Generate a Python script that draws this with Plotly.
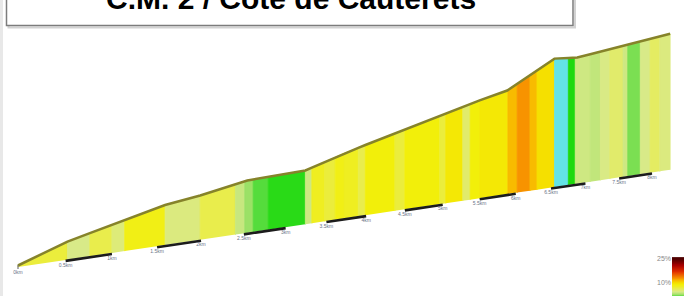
import numpy as np
import plotly.graph_objects as go

# ---------------- data ----------------
title_text = "C.M. 2 / Cote de Cauterets"

# altitude profile (km from start, metres)
profile_km = [0, 0.52, 1.57, 1.99, 2.54, 3.24, 3.72, 5.50, 5.88, 6.30, 6.54, 6.88, 7.77, 8.28]
profile_alt = [470, 512, 570, 583, 606, 612, 645, 747, 766, 815, 844, 840, 866, 882]

# colour-coded slope strips: boundaries (km) and gradient (%) of each strip
strip_km = [0, 0.52, 0.76, 1.00, 1.14, 1.59, 1.99, 2.40, 2.51, 2.61, 2.79, 3.24, 3.32, 3.48,
            3.61, 3.72, 3.90, 3.99, 4.37, 4.50, 4.96, 5.04, 5.27, 5.37, 5.50, 5.89, 6.02,
            6.20, 6.30, 6.55, 6.75, 6.85, 7.07, 7.22, 7.36, 7.56, 7.63, 7.82, 7.97,
            8.12, 8.28]
strip_grade = [7, 4.5, 6.5, 5, 8.5, 4.8, 6.5, 4.0, 2.8, 1.5, 0.3, 4.2, 8, 7,
               8.5, 8, 6.5, 9, 7, 9, 7, 9.5, 5.5, 9, 9.5, 11.5, 13,
               11.5, 10, -1, 0, 4.2, 3.8, 4.6, 5.5, 4.2, 2.2, 4.5, 5.8,
               4.8]

# kilometre markers (black bars from each half-km to the next km)
bar_start_km = [0.5, 1.5, 2.5, 3.5, 4.5, 5.5, 6.5, 7.5]
bar_end_km = [1, 2, 3, 4, 5, 6, 7, 8]
start_label_km = [0]

# slope legend
legend_ticks = [10, 25]
legend_labels = ["10%", "25%"]

# ---------------- styling / view ----------------
grade_stops = [(-2, "#63e3e6"), (-0.05, "#63e3e6"), (0, "#1ed90e"), (1.5, "#55dc3c"),
               (3, "#a6e26c"), (4.5, "#d8ea88"), (6, "#e6ec5c"), (7.5, "#eeee2c"),
               (9, "#f2ef0a"), (10, "#f5e000"), (11.5, "#f8bb00"), (13, "#f79300"),
               (17, "#e23000"), (21, "#a80000"), (25, "#4f0000")]
GMIN, GMAX = -2.0, 25.0


def hex_rgb(h):
    h = h.lstrip("#")
    return tuple(int(h[i:i + 2], 16) for i in (0, 2, 4))


def grade_color(g):
    g = min(max(g, GMIN), GMAX)
    for (g0, c0), (g1, c1) in zip(grade_stops[:-1], grade_stops[1:]):
        if g0 <= g <= g1:
            t = 0 if g1 == g0 else (g - g0) / (g1 - g0)
            a, b = hex_rgb(c0), hex_rgb(c1)
            return "rgb(%d,%d,%d)" % tuple(round(a[i] + (b[i] - a[i]) * t) for i in range(3))
    return grade_stops[-1][1]


plotly_scale = [[(g - GMIN) / (GMAX - GMIN), c] for g, c in grade_stops]

# oblique perspective view
X0, Y0 = 18.0, 267.0
A, K = 96.5, 0.0272
BASE_SLOPE = -0.149
VSCALE = 0.4
ALT0 = profile_alt[0]


def sx(d):
    return X0 + A * d / (1 + K * d)


def by(d):
    return Y0 + BASE_SLOPE * (sx(d) - X0)


def ty(d):
    alt = np.interp(d, profile_km, profile_alt)
    return by(d) - 1.5 - (alt - ALT0) * VSCALE / (1 + K * d)


fig = go.Figure()

# strips
for d0, d1, g in zip(strip_km[:-1], strip_km[1:], strip_grade):
    pts = [d0] + [p for p in profile_km if d0 < p < d1] + [d1]
    xs = [sx(d0)] + [sx(p) for p in pts] + [sx(d1)]
    ys = [by(d0)] + [ty(p) for p in pts] + [by(d1)]
    col = grade_color(g)
    fig.add_trace(go.Scatter(x=xs, y=ys, fill="toself", fillcolor=col, mode="lines",
                             line=dict(color=col, width=0.8), hoverinfo="skip",
                             showlegend=False))

# top outline
all_pts = sorted(set(strip_km) | set(profile_km))
fig.add_trace(go.Scatter(x=[sx(p) for p in all_pts], y=[ty(p) for p in all_pts],
                         mode="lines", line=dict(color="#86832a", width=2.5),
                         hoverinfo="skip", showlegend=False))

# km bars
bx, byy = [], []
for a, b in zip(bar_start_km, bar_end_km):
    bx += [sx(a), sx(b), None]
    byy += [by(a) + 1, by(b) + 1, None]
fig.add_trace(go.Scatter(x=bx, y=byy, mode="lines", line=dict(color="#1c1c1c", width=2.6),
                         hoverinfo="skip", showlegend=False))


def km_text(v):
    return ("%g" % v) + "km"


lab_km = start_label_km + bar_start_km + bar_end_km
fig.add_trace(go.Scatter(x=[sx(v) for v in lab_km], y=[by(v) + 3 for v in lab_km],
                         mode="text", text=[km_text(v) for v in lab_km],
                         textposition="bottom center",
                         textfont=dict(size=5, color="#6a7488", family="Liberation Sans"),
                         hoverinfo="skip", showlegend=False))

# start post
fig.add_trace(go.Scatter(x=[sx(0), sx(0)], y=[by(0) - 2, by(0) + 2], mode="lines",
                         line=dict(color="#777", width=1.2), hoverinfo="skip",
                         showlegend=False))

# slope legend bar
lg = np.arange(1.9, 26.25, 0.2)
fig.add_trace(go.Heatmap(x=[0], y=lg, z=[[v] for v in lg], zmin=GMIN, zmax=GMAX,
                         colorscale=plotly_scale, showscale=False, xaxis="x2", yaxis="y2",
                         hoverinfo="skip"))

W, H = 688, 296
fig.update_layout(
    width=W, height=H, margin=dict(l=0, r=0, t=0, b=0),
    paper_bgcolor="white", plot_bgcolor="white",
    xaxis=dict(range=[0, W], visible=False, domain=[0, 1]),
    yaxis=dict(range=[H, 0], visible=False, domain=[0, 1]),
    xaxis2=dict(domain=[672 / W, 684 / W], range=[-0.5, 0.5], visible=False, anchor="y2"),
    yaxis2=dict(domain=[0, 40 / H], range=[1.875, 26.9], anchor="x2", side="left",
                tickvals=legend_ticks, ticktext=legend_labels, ticks="", showgrid=False,
                zeroline=False, showline=False,
                tickfont=dict(size=7, color="#888", family="Liberation Sans")),
    showlegend=False,
)

# title box with shadow
fig.add_shape(type="rect", xref="paper", yref="paper", x0=8.5 / W, x1=575 / W,
              y0=1 - 27.5 / H, y1=1.3, line=dict(color="#d2d2d2", width=2), layer="above")
fig.add_shape(type="rect", xref="paper", yref="paper", x0=6.5 / W, x1=573 / W,
              y0=1 - 25.5 / H, y1=1.3, line=dict(color="#7c7c7c", width=1.5),
              fillcolor="white", layer="above")
fig.add_annotation(text=title_text, xref="paper", yref="paper", x=290.5 / W,
                   y=1 - 17 / H, xanchor="center", yanchor="bottom", showarrow=False,
                   font=dict(size=30, color="black", family="Liberation Sans", weight="bold"))
# faint left edge
fig.add_shape(type="rect", xref="paper", yref="paper", x0=0, x1=3 / W, y0=0, y1=1,
              line=dict(width=0), fillcolor="#e8e8e8", layer="below")

fig.write_html("out.html", config={"displayModeBar": False},
               post_script="document.body.style.margin='0px';")
